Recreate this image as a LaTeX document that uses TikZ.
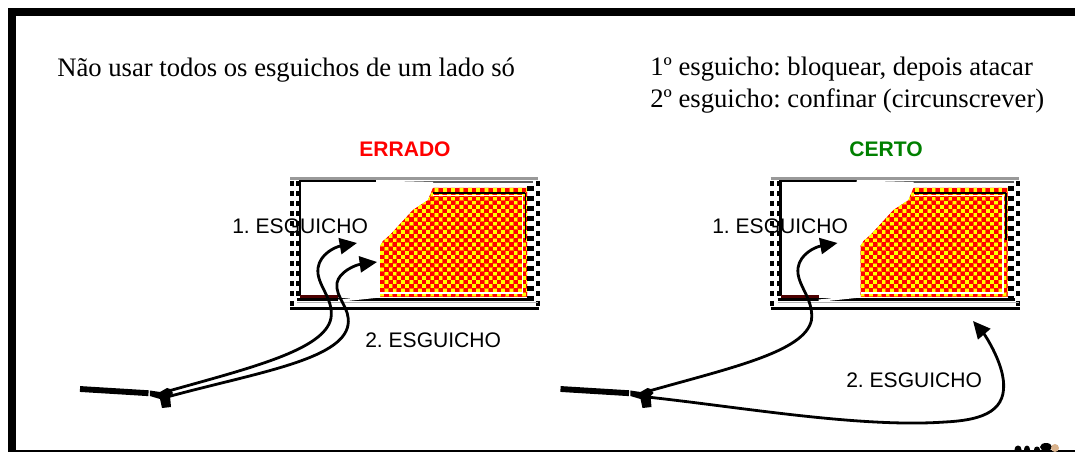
\documentclass[tikz,border=0pt]{standalone}
\usepackage{fontspec}
\setmainfont{Liberation Serif}
\setsansfont{Liberation Sans}
\usetikzlibrary{arrows.meta}
\definecolor{frgreen}{RGB}{0,128,0}
\definecolor{frred}{RGB}{255,0,0}
\definecolor{fryellow}{RGB}{255,255,0}
\definecolor{frorange}{RGB}{255,110,0}
\tikzset{
  serifnote/.style={font=\rmfamily\fontsize{20}{24}\selectfont,inner sep=0pt,align=left,anchor=west},
  esg/.style={font=\sffamily\fontsize{15.8}{18}\selectfont,inner sep=0pt,anchor=west},
  verdict/.style={font=\sffamily\bfseries\fontsize{15.8}{18}\selectfont,inner sep=0pt},
  jet/.style={line width=2.1pt,-{Triangle[length=13pt,width=12pt]}},
  dashv/.style={line width=3pt,dash pattern=on 4pt off 3.5pt},
  hosepipe/.style={line width=4.4pt},
}
\newcommand{\fireroom}{%
  % fire checker
  \begin{scope}
    \clip (380,297) -- (380,246) -- (383,241) -- (390,235) -- (413,210) -- (428,200) -- (433,188) -- (527,188) -- (527,297) -- cycle;
    \fill[frorange] (376,184) rectangle (530,300);
    \foreach \i in {0,...,37}{
      \foreach \j in {0,...,28}{
        \pgfmathtruncatemacro{\chk}{mod(\i+\j,2)}
        \ifnum\chk=0
          \fill[frred] ({376+4.17*\i},{184+4.17*\j}) rectangle ++(4.17,4.17);
        \else
          \fill[fryellow] ({376+4.17*\i+.3},{184+4.17*\j+.3}) rectangle ++(3.5,3.5);
        \fi
      }
    }
  \end{scope}
  % outer walls
  \draw[gray!80,line width=1.6pt] (290,178.5) -- (538,178.5);
  \draw[dashv] (291.5,181) -- (291.5,306);
  \draw[dashv] (298,181) -- (298,300);
  \draw[dashv] (537.5,181) -- (537.5,306);
  \draw[line width=4.8pt,dash pattern=on 3.7pt off 3.8pt] (530.5,186) -- (530.5,298);
  % inner wall
  \draw[line width=1.8pt] (300,296) -- (300,181) -- (376,181);
  \draw[line width=.9pt,gray!70!black] (376,182) -- (533,182);
  \fill[white] (376,180.5) -- (433,182) -- (433,186) -- (376,183.5) -- cycle;
  \draw[line width=1.8pt] (433,193) -- (525,193);
  \draw[white,line width=1.2pt] (433,195.5) -- (522,195.5);
  \draw[white,line width=1.1pt] (522.5,195) -- (522.5,293);
  \draw[line width=1.1pt] (525.5,193) -- (525.5,240);
  \draw[white,line width=1.4pt] (380,293) -- (523,293);
  % floor
  \draw[line width=2.8pt] (297,299.5) -- (534,299.5);
  \draw[line width=2pt,black!70!red] (300,296.8) -- (338,296.8);
  \fill[white] (338,299.5) -- (380,295.2) -- (380,297.5) -- (338,302) -- cycle;
  \draw[gray!60,line width=1pt] (297,302.5) -- (538,302.5);
  \draw[line width=2pt] (290,308.5) -- (539,308.5);
}
\newcommand{\hosetool}{%
  \draw[hosepipe] (80,389) -- (148.5,393.2);
  \fill (149.8,390.5) -- (160,392) -- (167,388) -- (170,389) -- (173,393) -- (170,396) -- (171,407) -- (162,408) -- (160,399) -- (149.8,396) -- cycle;
}
\begin{document}
\frenchspacing
\begin{tikzpicture}[x=0.75pt,y=-0.75pt]
\path[use as bounding box,fill=white] (0,0) rectangle (1075,452);
% page frame
\fill (8,8) rectangle (1075,16);
\fill (8,8) rectangle (16,452);
\fill (8,449.5) rectangle (1075,452);
\fireroom
\begin{scope}[shift={(480.5,0)}]
  \fireroom
\end{scope}
\hosetool
\begin{scope}[shift={(480.5,0)}]
  \hosetool
\end{scope}
% stray mark at bottom right
\fill (1018,449.5) ellipse (3.5 and 4);
\fill (1027,449.5) ellipse (3 and 4);
\fill (1037,449.5) ellipse (3 and 3);
\fill (1046,447) ellipse (6 and 4);
\fill[brown!60!white] (1055,448) ellipse (4 and 4);
% texts
\node[serifnote] (t1) at (57,70) {Não usar todos os esguichos de um lado só};
\node[serifnote] (t2) at (650,85) {1º esguicho: bloquear, depois atacar\\2º esguicho: confinar (circunscrever)};
\node[verdict,text=frred] (errado) at (405,149) {ERRADO};
\node[verdict,text=frgreen] (certo) at (886,149) {CERTO};
\node[esg] (e1a) at (232,226) {1. ESGUICHO};
\node[esg] (e2a) at (365,340.5) {2. ESGUICHO};
\node[esg] (e1b) at (712,226) {1. ESGUICHO};
\node[esg] (e2b) at (846,380) {2. ESGUICHO};
% jets
\coordinate (nozA1) at (165,392);
\coordinate (nozA2) at (167,397);
\coordinate (nozB1) at (645.5,392);
\coordinate (nozB2) at (647,397);
\coordinate (tipA1) at (357,243);
\coordinate (tipA2) at (377,262);
\coordinate (tipB1) at (837.5,243);
\coordinate (tipB2) at (973,321);
\draw[jet] (nozA1) .. controls (250,368) and (325,350) .. (331,318)
  .. controls (334,298) and (316,285) .. (318,268) .. controls (320,254) and (335,247) .. (tipA1);
\draw[jet] (nozA2) .. controls (255,373) and (342,360) .. (348,325)
  .. controls (351,308) and (335,298) .. (337,283) .. controls (339,272) and (355,265) .. (tipA2);
\draw[jet] (nozB1) .. controls (730,368) and (805,352) .. (811.5,320)
  .. controls (814,298) and (796,285) .. (798,268) .. controls (800,254) and (815,247) .. (tipB1);
\draw[jet] (nozB2) .. controls (740,407) and (860,428) .. (945,422)
  .. controls (985,420) and (1008,410) .. (1003,378) .. controls (1000,358) and (985,335) .. (tipB2);
\end{tikzpicture}
\end{document}
